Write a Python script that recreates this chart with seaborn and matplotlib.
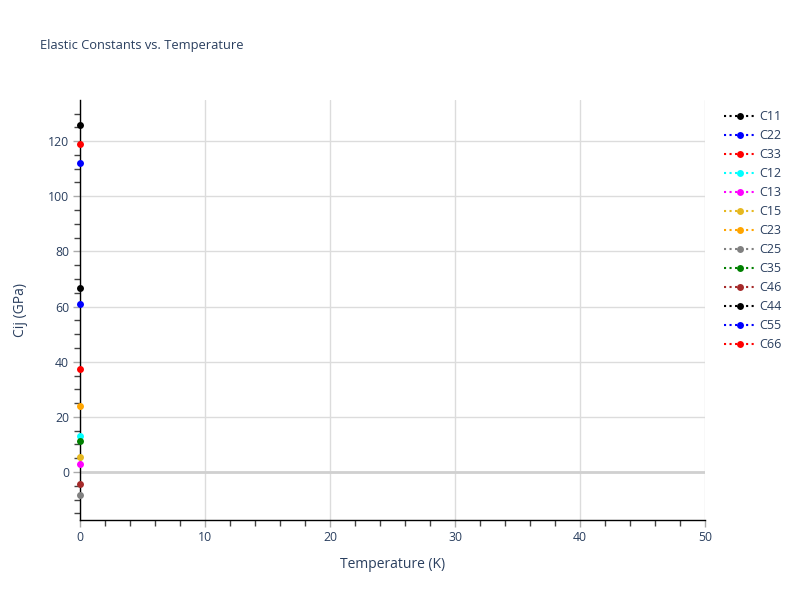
import matplotlib
matplotlib.use("Agg")
import matplotlib.pyplot as plt
from matplotlib.lines import Line2D
from matplotlib.ticker import MultipleLocator
import seaborn as sns
import pandas as pd

names = ["C11", "C22", "C33", "C12", "C13", "C15", "C23", "C25", "C35", "C46", "C44", "C55", "C66"]
colors = ["black", "blue", "red", "cyan", "magenta", "#e6b820", "orange", "gray", "green", "brown", "black", "blue", "red"]
temperature = [0.0]
values = {
    "C11": [126.0], "C22": [111.9], "C33": [118.9], "C12": [12.9], "C13": [3.0],
    "C15": [5.5], "C23": [23.8], "C25": [-8.3], "C35": [11.4], "C46": [-4.4],
    "C44": [66.8], "C55": [60.9], "C66": [37.3],
}

rows = []
for n in names:
    for t, v in zip(temperature, values[n]):
        rows.append({"T": t, "C": v, "name": n})
df = pd.DataFrame(rows)

sns.set_style("white")
plt.rcParams["font.family"] = ["Open Sans", "DejaVu Sans"]
txt = "#2a3f5f"

fig = plt.figure(figsize=(8, 6), dpi=100)
ax = fig.add_axes([0.1, 0.1333, 0.78125, 0.7])

for n, c in zip(names, colors):
    sub = df[df["name"] == n]
    sns.lineplot(data=sub, x="T", y="C", ax=ax, color=c, marker="o", markersize=5,
                 markeredgewidth=0, linestyle=":", linewidth=1.5, legend=False, zorder=3,
                 clip_on=False)

ax.set_xlim(0, 50)
ax.set_ylim(-17.4, 134.9)
ax.xaxis.set_major_locator(MultipleLocator(10))
ax.xaxis.set_minor_locator(MultipleLocator(2))
ax.yaxis.set_major_locator(MultipleLocator(20))
ax.yaxis.set_minor_locator(MultipleLocator(5))
ax.grid(True, which="major", color="#dcdcdc", linewidth=1)
ax.axhline(0, color="#d0d0d0", linewidth=2, zorder=1)
ax.set_axisbelow(True)

for s in ["top", "right"]:
    ax.spines[s].set_visible(False)
for s in ["left", "bottom"]:
    ax.spines[s].set_color("black")
    ax.spines[s].set_linewidth(1)

ax.tick_params(axis="both", which="major", direction="out", length=5, width=1,
               color="#aaaaaa", labelsize=8.8, labelcolor=txt, pad=3)
ax.tick_params(axis="both", which="minor", direction="out", length=4, width=1, color="#444444")
ax.tick_params(axis="x", which="both", bottom=True)
ax.tick_params(axis="y", which="both", left=True)

ax.set_xlabel("Temperature (K)", fontsize=10, color=txt, labelpad=9)
ax.set_ylabel("Cij (GPa)", fontsize=10, color=txt, labelpad=14)

fig.text(0.05, 0.925, "Elastic Constants vs. Temperature", fontsize=9.3, color=txt,
         ha="left", va="center")

handles = [Line2D([0], [0], color=c, linestyle=":", linewidth=1.5, marker="o",
                  markersize=5, markeredgewidth=0) for c in colors]
fig.legend(handles, names, loc="upper left", bbox_to_anchor=(0.899, 0.825), frameon=False,
           fontsize=9, labelcolor=txt, handlelength=2.6, handletextpad=0.2,
           labelspacing=0.48, borderaxespad=0)

fig.savefig("out.png", dpi=100)
